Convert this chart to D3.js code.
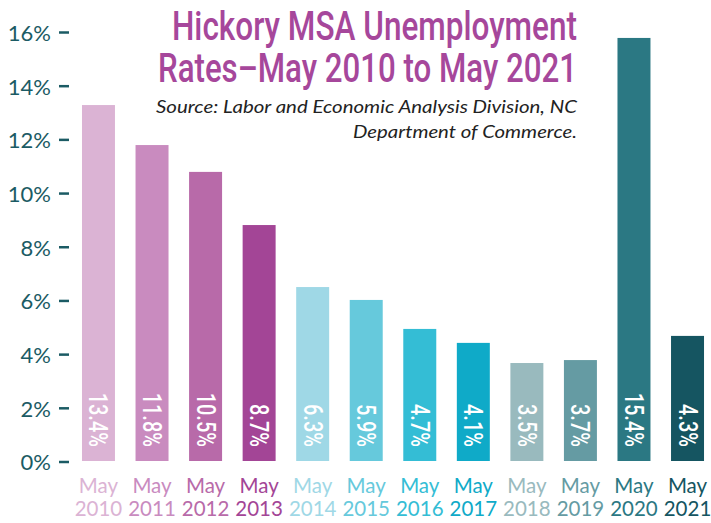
<!DOCTYPE html>
<html>
<head>
<meta charset="utf-8">
<script src="https://cdn.jsdelivr.net/npm/d3@7/dist/d3.min.js"></script>
<style>
  html, body { margin: 0; padding: 0; background: #fff; }
  svg { display: block; }
</style>
</head>
<body>
<svg id="chart" width="711" height="523"></svg>
<script>
// ---- data ----
const categories = ["2010","2011","2012","2013","2014","2015","2016","2017","2018","2019","2020","2021"];
const barValues  = [13.26, 11.77, 10.77, 8.79, 6.48, 6.0, 4.92, 4.40, 3.65, 3.76, 15.76, 4.66];
const barLabels  = ["13.4%","11.8%","10.5%","8.7%","6.3%","5.9%","4.7%","4.1%","3.5%","3.7%","15.4%","4.3%"];
const barColors  = ["#dbb3d4","#c98bbf","#b86aa9","#a34596","#9fd8e6","#66c9dc","#34bdd5","#0faac8","#99babe","#659ba3","#2b7883","#155561"];
const yTicks     = [0, 2, 4, 6, 8, 10, 12, 14, 16];
const titleLines = ["Hickory MSA Unemployment", "Rates\u2013May 2010 to May 2021"];
const sourceLines = ["Source: Labor and Economic Analysis Division, NC", "Department of Commerce."];

const svg = d3.select("#chart");
const axisColor = "#1b5b64";

const x = d3.scaleBand()
  .domain(categories)
  .range([71.7, 714.3])
  .paddingInner(0.384)
  .paddingOuter(0.192);

const y = d3.scaleLinear().domain([0, 16]).range([461, 31.5]);

// ---- bars ----
svg.append("g").selectAll("rect")
  .data(categories)
  .join("rect")
  .attr("x", d => x(d))
  .attr("width", x.bandwidth())
  .attr("y", (d, i) => y(barValues[i]))
  .attr("height", (d, i) => y(0) - y(barValues[i]))
  .attr("fill", (d, i) => barColors[i]);

// ---- bar labels (rotated) ----
svg.append("g").selectAll("text")
  .data(categories)
  .join("text")
  .attr("text-anchor", "end")
  .attr("dy", "0.36em")
  .attr("font-family", "Roboto, 'Liberation Sans', sans-serif")
  .attr("font-weight", 500)
  .attr("font-size", 25)
  .attr("fill", "#ffffff")
  .attr("transform", d => `translate(${x(d) + x.bandwidth() / 2},447) rotate(90) scale(0.8,1)`)
  .text((d, i) => barLabels[i]);

// ---- y axis ----
const yAxis = d3.axisLeft(y)
  .tickValues(yTicks)
  .tickSize(10)
  .tickPadding(8)
  .tickFormat(d => d + "%");

const gy = svg.append("g")
  .attr("transform", "translate(69,0)")
  .call(yAxis);
gy.select(".domain").remove();
gy.selectAll(".tick line")
  .attr("stroke", axisColor)
  .attr("stroke-width", 2.5)
  .attr("transform", "translate(0,0.5)");
gy.selectAll(".tick text")
  .attr("fill", axisColor)
  .attr("font-family", "Lato, 'Open Sans', sans-serif")
  .attr("font-size", 22)
  .attr("dy", "0.4em")
  .attr("x", -18);

// ---- x labels ----
const xl = svg.append("g").selectAll("text")
  .data(categories)
  .join("text")
  .attr("text-anchor", "middle")
  .attr("font-family", "Lato, 'Open Sans', sans-serif")
  .attr("font-size", 20.5)
  .attr("fill", (d, i) => barColors[i]);
xl.append("tspan")
  .attr("x", d => x(d) + x.bandwidth() / 2)
  .attr("y", 493)
  .text("May");
xl.append("tspan")
  .attr("x", d => x(d) + x.bandwidth() / 2)
  .attr("y", 516)
  .text(d => d);

// ---- title (one text, two lines) ----
const titleTargets = [405, 419];
const titleBaselines = [40, 82];
const title = svg.append("text")
  .attr("text-anchor", "end")
  .attr("font-family", "Roboto, 'Liberation Sans', sans-serif")
  .attr("font-weight", 500)
  .attr("font-size", 41)
  .attr("fill", "#a6479b");
titleLines.forEach((t, i) => {
  title.append("tspan")
    .attr("x", 577)
    .attr("y", titleBaselines[i])
    .attr("textLength", titleTargets[i])
    .attr("lengthAdjust", "spacingAndGlyphs")
    .text(t);
});

// ---- source (one text, two lines) ----
const srcTargets = [421, 224];
const srcBaselines = [113, 138];
const src = svg.append("text")
  .attr("text-anchor", "end")
  .attr("font-family", "Lato, 'Open Sans', sans-serif")
  .attr("font-style", "italic")
  .attr("font-size", 18)
  .attr("fill", "#222222");
sourceLines.forEach((t, i) => {
  src.append("tspan")
    .attr("x", 577)
    .attr("y", srcBaselines[i])
    .attr("textLength", srcTargets[i])
    .attr("lengthAdjust", "spacingAndGlyphs")
    .text(t);
});
</script>
</body>
</html>
